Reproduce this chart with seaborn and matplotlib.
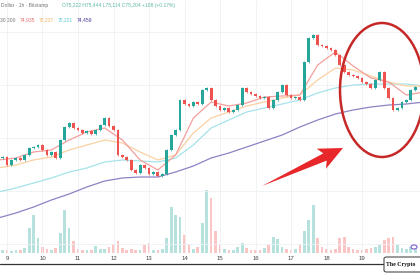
import matplotlib
matplotlib.use("Agg")
import matplotlib.pyplot as plt
import seaborn as sns
import pandas as pd
from matplotlib.patches import Ellipse, Polygon, FancyBboxPatch, Circle
from matplotlib.lines import Line2D

# ---------------- data ----------------
# 3-hour candles, hours counted from day 9 00:00
candle_hours = list(range(-3, 279, 3))
closes = [71700, 71300, 71550, 71650, 71550, 71800, 72150, 72200, 72300, 72050,
          71800, 71950, 71650, 72550, 73200, 73400, 73150, 73050, 72900, 73000,
          72850, 73050, 73300, 73650, 73250, 73050, 71800, 71700, 71550, 71050,
          70900, 71300, 71150, 70850, 70950, 70750, 70850, 72050, 72800, 73050,
          74550, 74350, 74250, 74450, 74350, 75050, 75150, 74550, 74250, 74050,
          74150, 73950, 74050, 74300, 75150, 74950, 74850, 74750, 74650, 74700,
          74150, 74550, 74950, 75300, 74800, 74650, 74700, 74550, 76450, 77650,
          77800, 77300, 77250, 77150, 77050, 76800, 76300, 75950, 75800, 75750,
          75650, 75450, 75350, 75150, 75550, 75950, 75150, 74650, 74050, 74150,
          74450, 74550, 75050, 75200]
first_open = 71650
volumes = [3, 3, 2, 3, 3, 5, 25, 38, 15, 6,
           4, 3, 5, 20, 43, 25, 12, 4, 3, 3,
           3, 7, 4, 4, 6, 9, 12, 5, 3, 4,
           3, 3, 8, 10, 3, 3, 4, 15, 46, 38,
           36, 18, 9, 4, 6, 30, 63, 55, 22, 8,
           4, 3, 3, 6, 10, 5, 3, 3, 3, 5,
           8, 16, 14, 6, 4, 3, 4, 8, 22, 33,
           48, 15, 6, 4, 3, 4, 15, 16, 6, 4,
           3, 3, 4, 5, 6, 8, 13, 15, 16, 9,
           5, 4, 6, 4]

ma_hours = list(range(-6, 283, 12))
ma_fast = [71550, 71650, 71950, 72050, 72550, 72950, 73150, 72550, 71550, 71050,
           71800, 73650, 74450, 74250, 74400, 74700, 74750, 74800, 76300, 76950,
           76250, 75650, 75450, 74800, 74950]
ma_mid = [71150, 71300, 71550, 71700, 72050, 72300, 72550, 72400, 71950, 71550,
          71800, 72900, 73650, 73950, 74250, 74450, 74650, 74800, 75550, 76150,
          76050, 75750, 75450, 75250, 75250]
ma_slow = [69950, 70150, 70400, 70650, 70950, 71150, 71450, 71550, 71500, 71450,
           71650, 72300, 73150, 73550, 73950, 74150, 74350, 74550, 74900, 75150,
           75300, 75350, 75350, 75350, 75250]
ma_200 = [68650, 68900, 69200, 69550, 69850, 70200, 70500, 70650, 70700, 70700,
          70950, 71250, 71650, 71900, 72200, 72500, 72800, 73200, 73550, 73850,
          74050, 74200, 74300, 74350, 74450]

day_hours = [0, 24, 48, 72, 96, 120, 144, 168, 192, 216, 240]
day_labels = ["9", "10", "11", "12", "13", "14", "15", "16", "17", "18", "19"]
grid_prices = [77950, 75300, 72650, 70000, 67350]

header_1 = "Dollar · 1h · Bitstamp"
header_ohlc = "O75,222 H75,444 L75,114 C75,204 +108 (+0.17%)"
header_ma_label = "30 200"
header_ma_values = ["74,935", "75,237", "75,221", "74,459"]
watermark = "The Crypto"

# ---------------- styling ----------------
sns.set_theme(style="white")
plt.rcParams["font.family"] = ["Liberation Sans", "DejaVu Sans"]

UP, DOWN = "#26a69a", "#ef5350"
MA_COLORS = ["#f4a09c", "#fbd1a2", "#a6e3ea", "#8f82c4"]
HDR_COLORS = ["#e57373", "#f5b461", "#5cc9d6", "#4a3f9e"]

W, H = 420, 280
fig = plt.figure(figsize=(W / 100, H / 100), dpi=100)
fig.patch.set_facecolor("white")


def fx(x):
    return x / W


def fy(y):
    return 1 - y / H


rect = [0, fy(253), 1, 253 / H]
axv = fig.add_axes(rect)
ax = fig.add_axes(rect, sharex=axv)
ax.patch.set_alpha(0)

df = pd.DataFrame({"hour": candle_hours, "close": closes, "volume": volumes})
df["open"] = [first_open] + closes[:-1]
df["dir"] = ["up" if c >= o else "down" for o, c in zip(df["open"], df["close"])]
colors = [UP if d == "up" else DOWN for d in df["dir"]]

# volume
axv.bar(df["hour"], df["volume"], width=1.8, color=colors, alpha=0.33, linewidth=0)
axv.set_ylim(0, 253)
axv.set_yticks([])

# moving averages (seaborn)
for vals, col in zip([ma_200, ma_slow, ma_mid, ma_fast], MA_COLORS[::-1]):
    sns.lineplot(x=ma_hours, y=vals, ax=ax, color=col, linewidth=0.9, zorder=2)

# candles
body_h = [max(abs(c - o), 40) for o, c in zip(df["open"], df["close"])]
body_b = [min(o, c) for o, c in zip(df["open"], df["close"])]
ax.bar(df["hour"], body_h, bottom=body_b, width=1.9, color=colors, linewidth=0, zorder=3)
ax.vlines(df["hour"], [b - 70 for b in body_b], [b + h + 70 for b, h in zip(body_b, body_h)],
          colors=colors, linewidth=0.5, zorder=3)

ax.set_ylim(66900, 79550)
ax.set_xlim(-4.73, 279.2)
ax.set_yticks(grid_prices)
ax.set_yticklabels([])
ax.set_xticks(day_hours)
ax.set_xticklabels(day_labels)
ax.tick_params(axis="x", length=0, pad=2.2, labelsize=4.3, labelcolor="#444444")
ax.tick_params(axis="y", length=0)
ax.grid(True, color="#eef0f4", linewidth=0.6)
ax.set_axisbelow(True)
ax.set_xlabel("")
ax.set_ylabel("")
for a in (ax, axv):
    for s in a.spines.values():
        s.set_visible(False)
axv.tick_params(axis="x", length=0, labelbottom=False)

# bottom line
fig.add_artist(Line2D([0, fx(383)], [fy(264), fy(264)], transform=fig.transFigure,
                      color="#333333", linewidth=0.9))

# red ellipse
fig.add_artist(Ellipse((fx(382), fy(90)), 84 / W, 134 / H, transform=fig.transFigure,
                       fill=False, edgecolor="#c62828", linewidth=1.8, zorder=10))

# red arrow
arrow_px = [(262, 186), (326.7, 160.6), (326, 168.7), (343, 148), (316.8, 148.7), (323.3, 153.4)]
fig.add_artist(Polygon([(fx(x), fy(y)) for x, y in arrow_px], closed=True,
                       transform=fig.transFigure, facecolor="#e8272b", edgecolor="none", zorder=10))

# header text
fig.text(fx(1), fy(6), header_1, fontsize=3.6, color="#777777", va="center", ha="left")
fig.text(fx(62), fy(6), header_ohlc, fontsize=3.6, color="#5fb8a8", va="center", ha="left")
fig.text(fx(0), fy(20), header_ma_label, fontsize=3.6, color="#777777", va="center", ha="left")
for xv, txt, col in zip([20, 39, 58, 77], header_ma_values, HDR_COLORS):
    fig.text(fx(xv), fy(20), txt, fontsize=3.6, color=col, va="center", ha="left")

# watermark box
fig.add_artist(FancyBboxPatch((fx(384), fy(272)), 50 / W, 15 / H, transform=fig.transFigure,
                              boxstyle="round,pad=0,rounding_size=0.006", facecolor="white",
                              edgecolor="#333333", linewidth=0.7, zorder=11))
fig.text(fx(386), fy(264.5), watermark, fontsize=4.2, family="Liberation Serif",
         weight="bold", color="#111111", va="center", ha="left", zorder=12)

# small purple icon
fig.add_artist(Circle((fx(414), fy(247)), 3 / W, transform=fig.transFigure, fill=False,
                      edgecolor="#7e5cc8", linewidth=0.8, zorder=11))

fig.savefig("out.png", dpi=100)
